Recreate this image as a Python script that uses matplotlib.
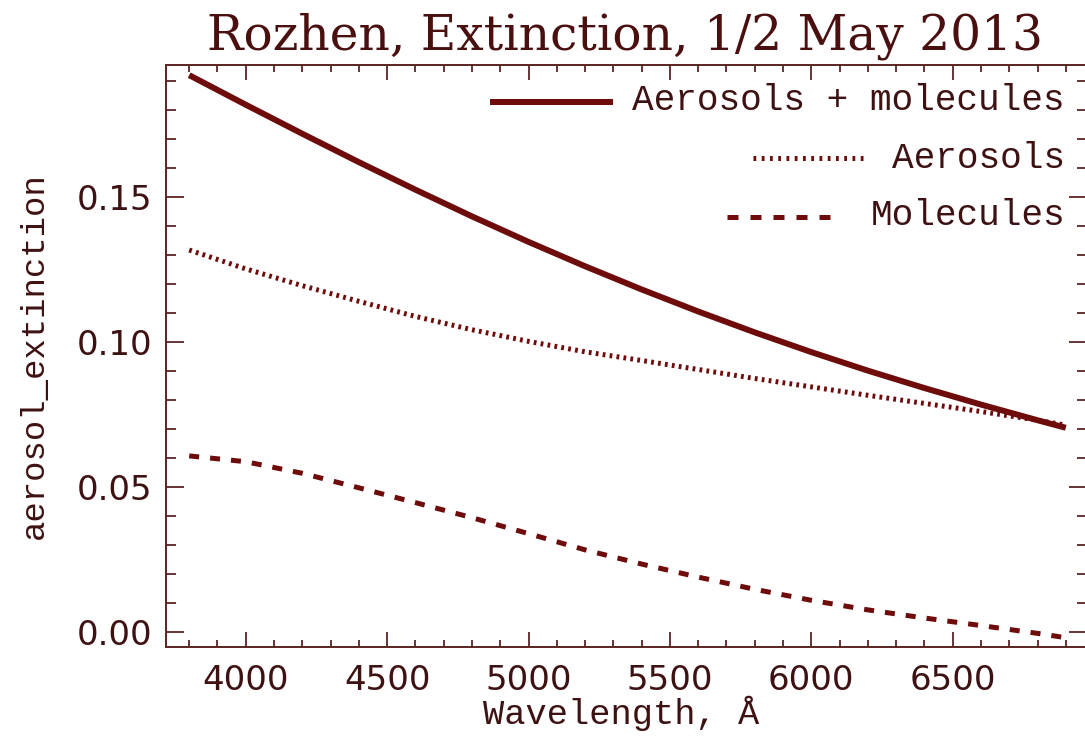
import numpy as np
import matplotlib
matplotlib.use("Agg")
import matplotlib.pyplot as plt
from matplotlib.ticker import MultipleLocator, FormatStrFormatter

# extinction components vs wavelength (Angstrom)
wavelength = [3800, 4000, 4200, 4400, 4600, 4800, 5000, 5200, 5400,
              5600, 5800, 6000, 6200, 6400, 6600, 6800, 6900]
ext_total = [0.1920, 0.1818, 0.1718, 0.1620, 0.1525, 0.1433, 0.1345, 0.1261, 0.1181,
             0.1105, 0.1033, 0.0965, 0.0901, 0.0841, 0.0784, 0.0730, 0.0704]
ext_aerosols = [0.1317, 0.1252, 0.1194, 0.1140, 0.1088, 0.1042, 0.1002, 0.0966, 0.0936,
                0.0905, 0.0874, 0.0845, 0.0816, 0.0788, 0.0760, 0.0730, 0.0713]
ext_molecules = [0.0607, 0.0587, 0.0547, 0.0497, 0.0446, 0.0394, 0.0339, 0.0283, 0.0234,
                 0.0189, 0.0147, 0.0109, 0.0076, 0.0048, 0.0022, -0.0005, -0.0020]

labels = ["Aerosols + molecules", "Aerosols", "Molecules"]

W, H = 1085, 740
line_col = "#6e0b0b"
axis_col = "#5a2424"
text_col = "#3e1212"

dotted = (0, (0.55, 0.85))
dashed = (0, (2.0, 2.2))

fig = plt.figure(figsize=(W / 100, H / 100), dpi=100)
fig.patch.set_facecolor("white")

# axes box in pixels: left 166, right edge just past the figure, top 65, bottom 647
x0, x1, yt, yb = 166, 1087, 65, 647
ax = fig.add_axes([x0 / W, 1 - yb / H, (x1 - x0) / W, (yb - yt) / H])

ax.plot(wavelength, ext_total, color=line_col, lw=4.3, solid_capstyle="butt")
ax.plot(wavelength, ext_aerosols, color=line_col, lw=3.6, linestyle=dotted)
ax.plot(wavelength, ext_molecules, color=line_col, lw=3.6, linestyle=dashed)

ax.set_xlim(3718, 6975)
ax.set_ylim(-0.0052, 0.1955)

ax.xaxis.set_major_locator(MultipleLocator(500))
ax.xaxis.set_minor_locator(MultipleLocator(100))
ax.yaxis.set_major_locator(MultipleLocator(0.05))
ax.yaxis.set_minor_locator(MultipleLocator(0.01))
ax.yaxis.set_major_formatter(FormatStrFormatter("%.2f"))

ax.tick_params(which="both", direction="in", top=True, right=True,
               color=axis_col, width=1.3)
ax.tick_params(axis="y", which="major", length=13, pad=10)
ax.tick_params(axis="y", which="minor", length=7)
ax.tick_params(axis="x", which="major", length=11, pad=12)
ax.tick_params(axis="x", which="minor", length=5)

for lab in ax.get_xticklabels() + ax.get_yticklabels():
    lab.set_family("DejaVu Sans")
    lab.set_fontsize(24.5)
    lab.set_color(text_col)

for sp in ax.spines.values():
    sp.set_color(axis_col)
    sp.set_linewidth(1.4)

# title and axis labels
fig.text(625 / W, 1 - 50 / H, "Rozhen, Extinction, 1/2 May 2013",
         ha="center", va="baseline", family="DejaVu Serif", fontsize=35,
         color="#4a0f0f")
fig.text(621 / W, 1 - 724 / H, "Wavelength, Å", ha="center", va="baseline",
         family="Liberation Mono", fontsize=25.5, color=text_col)
fig.text(34 / W, 1 - 356 / H, "aerosol_extinction", ha="center", va="center",
         rotation=90, family="Liberation Mono", fontsize=24.5, color=text_col)

# right-aligned legend with keys drawn left of each label
def ax_frac(px, py):
    return (px - x0) / (x1 - x0), (yb - py) / (yb - yt)

legend_rows = [
    (labels[0], dict(lw=4.3, linestyle="-"), 490, 613, 102, 110),
    (labels[1], dict(lw=3.6, linestyle=(0, (0.55, 1.1))), 753, 865, 158, 168),
    (labels[2], dict(lw=3.6, linestyle=(0, (2.2, 2.4))), 727, 842, 217, 225),
]
for text, style, lx0, lx1, ly, base in legend_rows:
    (ax_a, ay), (ax_b, _) = ax_frac(lx0, ly), ax_frac(lx1, ly)
    ax.plot([ax_a, ax_b], [ay, ay], transform=ax.transAxes, color=line_col,
            clip_on=False, solid_capstyle="butt", **style)
    tx, ty = ax_frac(1065, base)
    ax.text(tx, ty, text, transform=ax.transAxes, ha="right", va="baseline",
            family="Liberation Mono", fontsize=26, color=text_col)

fig.savefig("out.png", dpi=100, facecolor="white")
